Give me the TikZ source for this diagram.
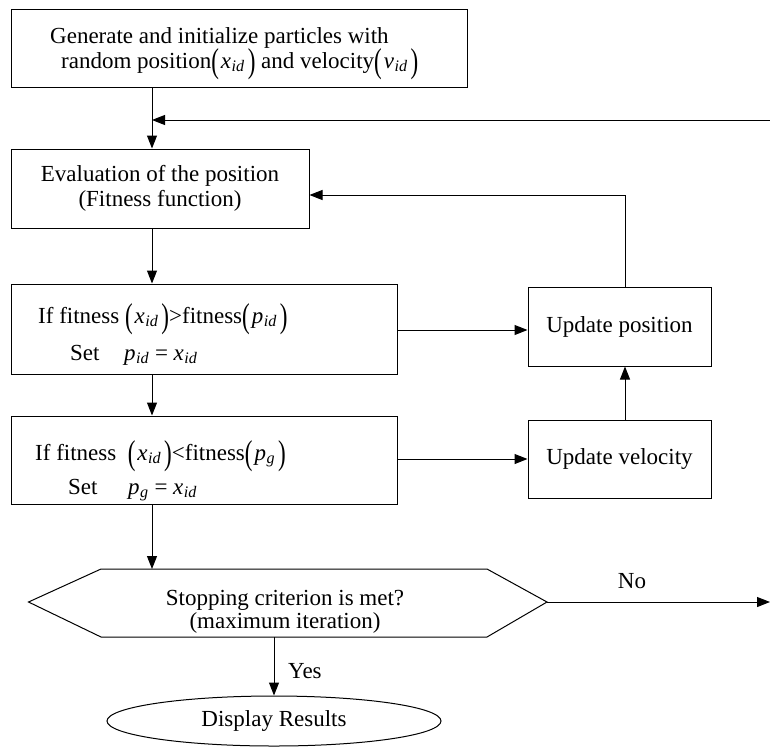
\documentclass[tikz,border=0pt]{standalone}
\usepackage{fontspec}
\setmainfont{Liberation Serif}
\usepackage{graphicx}
\usetikzlibrary{arrows.meta,shapes.geometric,calc}
\newcommand{\mv}[2]{\textit{#1}\textsubscript{\kern0.5pt\textit{#2}}}
\newcommand{\bpar}[1]{\raisebox{-0.2em}{\scalebox{1}[1.5]{(}}\kern2pt#1\kern3pt\raisebox{-0.2em}{\scalebox{1}[1.5]{)}}}
\begin{document}
\begin{tikzpicture}[x=1pt,y=-1pt,
  font=\fontsize{23}{25}\selectfont,
  box/.style={draw, line width=1pt, rectangle, inner sep=0pt, align=center},
  txt/.style={anchor=base west, inner sep=0pt},
  lbl/.style={anchor=base, inner sep=0pt},
  arr/.style={draw, line width=1pt, -{Triangle[length=13pt,width=10pt]}},
  ln/.style={draw, line width=1pt}]
\useasboundingbox (0,0) rectangle (770,747);

% boxes
\node[box, minimum width=456pt, minimum height=78pt] (init) at (239,48) {};
\node[txt] (init1) at (50,43) {Generate and initialize particles with};
\node[txt] (init2) at (61,68) {random position\bpar{\mv{x}{id}} and velocity\bpar{\mv{v}{id}}};

\node[box, minimum width=298pt, minimum height=79pt] (eval) at (160,188.5) {Evaluation of the position\\(Fitness function)};

\node[box, minimum width=386pt, minimum height=90pt] (fit1) at (204,329) {};
\node[txt] (fit1a) at (38,323) {If fitness \bpar{\mv{x}{id}}>fitness\bpar{\mv{p}{id}}};
\node[txt] (fit1b) at (70,360) {Set};
\node[txt] (fit1c) at (124,360) {\mv{p}{id} = \mv{x}{id}};

\node[box, minimum width=386pt, minimum height=88pt] (fit2) at (204,460) {};
\node[txt] (fit2a) at (35,460) {If fitness \ \bpar{\mv{x}{id}}<fitness\bpar{\mv{p}{g}}};
\node[txt] (fit2b) at (68,494) {Set};
\node[txt] (fit2c) at (128,494) {\mv{p}{g} = \mv{x}{id}};

\node[box, minimum width=183pt, minimum height=79pt] (upos) at (619.5,326.5) {Update position};
\node[box, minimum width=183pt, minimum height=78pt] (uvel) at (619.5,459) {Update velocity};

% hexagon
\coordinate (hL) at (28.5,602);
\coordinate (hTL) at (101,569);
\coordinate (hTR) at (487,569);
\coordinate (hR) at (547,602);
\coordinate (hBR) at (487,637);
\coordinate (hBL) at (101,637);
\draw[ln] (hL) -- (hTL) -- (hTR) -- (hR) -- (hBR) -- (hBL) -- cycle;
\node[lbl] (hext1) at (285,605) {Stopping criterion is met?};
\node[lbl] (hext2) at (285,628) {(maximum iteration)};

\node[draw, ellipse, line width=1pt, minimum width=334pt, minimum height=50pt, inner sep=0pt] (disp) at (274,721) {\raisebox{-5pt}{Display Results}};

% helper coordinates
\coordinate (cx) at (152,0);
\coordinate (fbR) at (770,120);
\coordinate (noR) at (770,602);
\coordinate (fb2) at (625,195);
\coordinate (y1) at (0,330);
\coordinate (y2) at (0,459);
\coordinate (ycol) at (625,0);
\coordinate (yesx) at (274,0);

% connectors
\draw[arr] (init.south -| cx) -- (eval.north -| cx);
\draw[arr] (fbR) -- (fbR -| cx);
\draw[arr] (eval.south -| cx) -- (fit1.north -| cx);
\draw[arr] (fit1.south -| cx) -- (fit2.north -| cx);
\draw[arr] (fit2.south -| cx) -- (hTL -| cx);
\draw[arr] (fit1.east |- y1) -- (upos.west |- y1);
\draw[arr] (fit2.east |- y2) -- (uvel.west |- y2);
\draw[arr] (uvel.north -| ycol) -- (upos.south -| ycol);
\draw[arr] (upos.north -| ycol) -- (fb2) -- (eval.east |- fb2);
\draw[arr] (hBL -| yesx) -- (disp.north);
\draw[arr] (hR) -- (noR);

\node[lbl] (nolbl) at (632,588) {No};
\node[txt] (yeslbl) at (288,678) {Yes};
\end{tikzpicture}
\end{document}
